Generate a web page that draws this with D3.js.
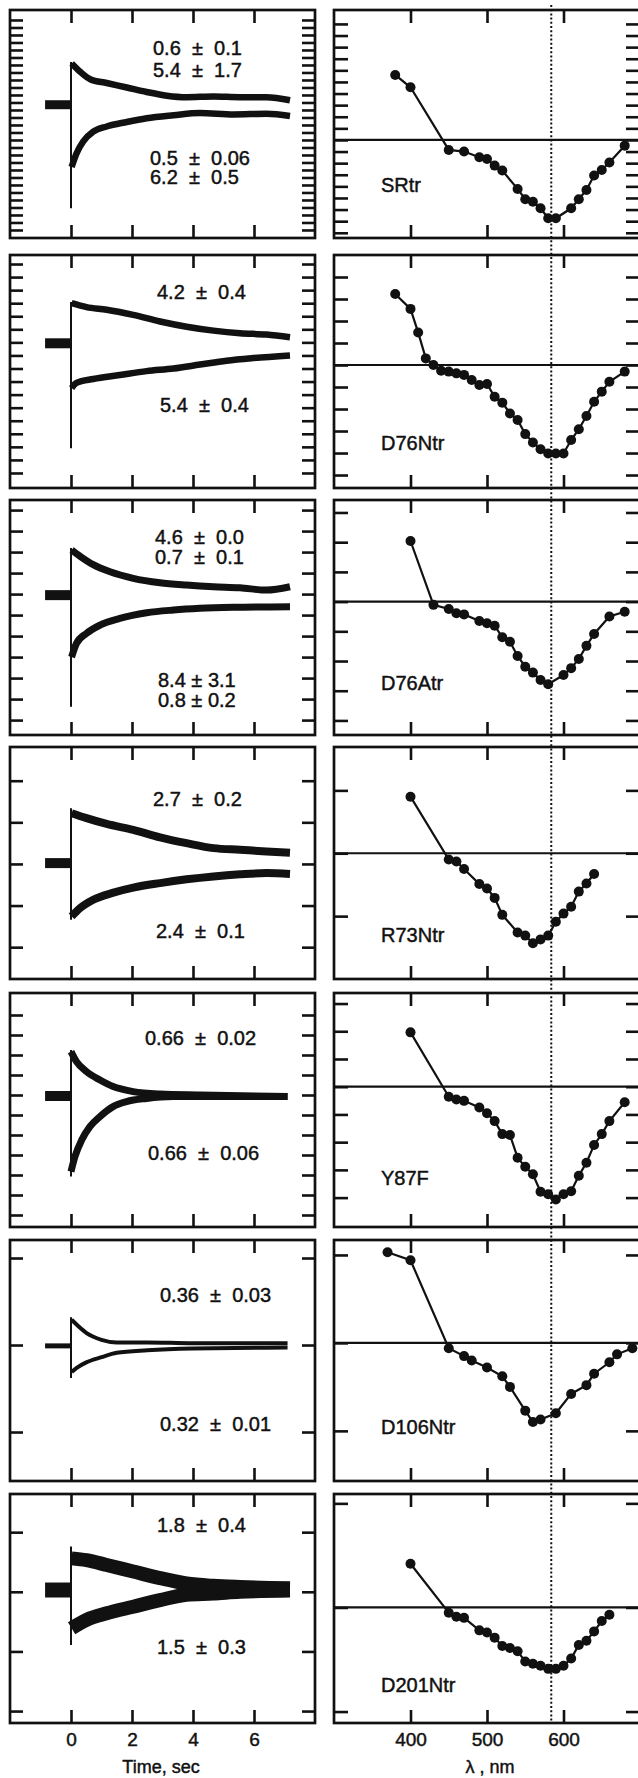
<!DOCTYPE html>
<html>
<head>
<meta charset="utf-8">
<script src="https://cdn.jsdelivr.net/npm/d3@7"></script>
<style>
  body { margin: 0; background: #fff; }
  text { font-family: "Liberation Sans", Arial, Helvetica, sans-serif; fill: #111; stroke: #111; stroke-width: 0.45px; }
</style>
</head>
<body>
<div id="fig"></div>
<script>
// ---------- data ----------
var mutants = ["SRtr", "D76Ntr", "D76Atr", "R73Ntr", "Y87F", "D106Ntr", "D201Ntr"];

var timeTicks = [0, 2, 4, 6];
var wlTicks = [400, 500, 600];
var markerWl = 584;   // dotted line

// time constants printed in each kinetics panel (upper / lower trace)
var tauUp = [["0.6  ±  0.1", "5.4  ±  1.7"], ["4.2  ±  0.4"], ["4.6  ±  0.0", "0.7  ±  0.1"],
             ["2.7  ±  0.2"], ["0.66  ±  0.02"], ["0.36  ±  0.03"], ["1.8  ±  0.4"]];
var tauDown = [["0.5  ±  0.06", "6.2  ±  0.5"], ["5.4  ±  0.4"], ["8.4 ± 3.1", "0.8 ± 0.2"],
               ["2.4  ±  0.1"], ["0.66  ±  0.06"], ["0.32  ±  0.01"], ["1.5  ±  0.3"]];

// kinetics: y in tick units, [time s, value]
var kinBase = [16.7, 9.93, 5.95, 2.02, 5.95, 0.99, 2.03];
var kinSpike = [[22.4, 2.9], [13.1, 1.9], [8.2, 0.63], [3.34, 0.66], [8.25, 1.92], [1.32, 0.62], [2.76, 1.11]];

var srtrUp = [[0.02,22.2],[0.3,21.1],[0.63,20.1],[1.17,19.6],[1.83,19.0],[2.48,18.4],[3.14,17.9],[3.79,17.7],[4.67,17.8],[5.54,17.7],[6.41,17.7],[7.18,17.3]];
var srtrDown = [[0.02,8.4],[0.18,10.2],[0.4,11.8],[0.73,13.1],[1.17,13.8],[1.83,14.4],[2.48,14.9],[3.36,15.3],[4.23,15.6],[5.33,15.4],[6.41,15.5],[7.18,15.2]];
var d76nUp = [[0.02,13.0],[0.51,12.7],[1.17,12.5],[2.04,12.1],[2.92,11.6],[3.79,11.2],[4.67,10.9],[5.54,10.7],[6.41,10.6],[7.18,10.4]];
var d76nDown = [[0.02,6.5],[0.18,6.9],[0.73,7.2],[1.6,7.5],[2.48,7.8],[3.36,8.0],[4.23,8.3],[5.1,8.6],[5.98,8.8],[7.18,9.0]];
var d76aUp = [[0.02,8.1],[0.3,7.8],[0.73,7.4],[1.28,7.06],[2.04,6.75],[2.92,6.54],[3.79,6.43],[4.67,6.35],[5.54,6.3],[6.41,6.19],[7.18,6.35]];
var d76aDown = [[0.02,3.0],[0.18,3.65],[0.51,4.13],[0.95,4.52],[1.6,4.84],[2.48,5.11],[3.36,5.24],[4.23,5.32],[5.33,5.37],[7.18,5.4]];
var r73nUp = [[0.02,3.22],[0.51,3.1],[1.17,2.96],[2.04,2.82],[2.92,2.64],[3.79,2.5],[4.67,2.38],[5.54,2.34],[6.41,2.3],[7.18,2.27]];
var r73nDown = [[0.02,0.74],[0.3,0.94],[0.73,1.14],[1.39,1.31],[2.04,1.43],[2.92,1.54],[3.79,1.63],[4.67,1.7],[5.54,1.75],[6.41,1.78],[7.18,1.76]];
var y87fUp = [[0.0,8.17],[0.18,7.67],[0.51,7.17],[0.95,6.75],[1.38,6.42],[2.04,6.17],[2.92,6.05],[4.23,6.0],[7.1,5.92]];
var y87fDown = [[0.0,2.17],[0.13,2.92],[0.35,3.75],[0.62,4.42],[0.95,4.92],[1.38,5.42],[1.82,5.67],[2.48,5.83],[3.36,5.92],[7.1,5.92]];
var d106nUp = [[0.02,1.29],[0.2,1.23],[0.5,1.14],[1.0,1.06],[1.5,1.03],[2.5,1.03],[4,1.02],[7.1,1.02]];
var d106nDown = [[0.02,0.69],[0.2,0.74],[0.5,0.8],[1.0,0.86],[1.5,0.91],[2.5,0.94],[4,0.96],[7.1,0.97]];
var d201nUp = [[0.02,2.56],[0.51,2.53],[1.17,2.45],[2.04,2.34],[2.92,2.23],[3.79,2.14],[4.67,2.1],[5.54,2.08],[7.18,2.06]];
var d201nDown = [[0.02,1.39],[0.51,1.53],[1.17,1.64],[2.04,1.75],[2.92,1.86],[3.79,1.95],[4.67,1.97],[5.54,2.0],[7.18,2.02]];

// kinetics y axes (tick units): domain and number of ticks
var kinDomain = [[-1.07, 29.33], [-1.15, 16.69], [-0.71, 10.48], [-0.765, 4.81], [-0.6, 11.1], [-0.563, 2.207], [-0.2, 3.64]];
var kinTickMax = [28, 16, 10, 4, 10, 2, 3];

// action spectra: wavelength nm, value (tick units)
var srtrWl = [380,400,450,470,490,500,510,520,540,550,560,570,580,590,610,620,630,640,650,660,680];
var srtrVal = [5.6,4.54,-0.86,-1.0,-1.49,-1.64,-2.21,-2.64,-4.22,-5.11,-5.32,-5.89,-6.75,-6.75,-5.89,-5.11,-4.31,-3.07,-2.59,-1.95,-0.49];
var d76nWl = [380,400,410,420,430,440,450,460,470,480,490,500,510,520,530,540,550,560,570,580,590,600,610,620,630,640,650,660,680];
var d76nVal = [3.23,2.55,1.48,0.3,0,-0.26,-0.3,-0.38,-0.45,-0.68,-0.91,-0.86,-1.44,-1.71,-2.2,-2.5,-3.14,-3.52,-3.83,-4.02,-4.02,-4.02,-3.41,-2.92,-2.32,-1.67,-1.21,-0.76,-0.3];
var d76aWl = [400,430,450,460,470,490,500,510,520,530,540,550,560,570,580,600,610,620,630,640,660,680];
var d76aVal = [2.04,-0.11,-0.25,-0.39,-0.43,-0.65,-0.73,-0.81,-1.2,-1.35,-1.83,-2.19,-2.39,-2.64,-2.78,-2.47,-2.24,-1.93,-1.49,-1.09,-0.5,-0.34];
var r73nWl = [400,450,460,470,490,500,510,520,540,550,560,570,580,590,600,610,620,630,640];
var r73nVal = [0.9,-0.1,-0.13,-0.25,-0.49,-0.56,-0.71,-0.98,-1.26,-1.31,-1.43,-1.37,-1.31,-1.09,-0.96,-0.85,-0.61,-0.48,-0.33];
var y87fWl = [400,450,460,470,490,500,510,520,530,540,550,560,570,580,590,600,610,620,630,640,650,660,680];
var y87fVal = [1.96,-0.36,-0.46,-0.51,-0.75,-0.96,-1.24,-1.71,-1.74,-2.56,-2.89,-3.16,-3.79,-3.88,-4.07,-3.88,-3.77,-3.21,-2.74,-2.1,-1.71,-1.24,-0.56];
var d106nWl = [370,400,450,470,480,500,520,530,550,560,570,590,610,630,640,660,670,690];
var d106nVal = [1.03,0.94,-0.06,-0.15,-0.2,-0.28,-0.38,-0.5,-0.77,-0.9,-0.87,-0.8,-0.58,-0.48,-0.35,-0.22,-0.13,-0.06];
var d201nWl = [400,450,460,470,490,500,510,520,530,540,550,560,570,580,590,600,610,620,630,640,650,660];
var d201nVal = [0.42,-0.05,-0.09,-0.1,-0.22,-0.24,-0.29,-0.37,-0.39,-0.42,-0.52,-0.54,-0.56,-0.59,-0.59,-0.56,-0.49,-0.36,-0.32,-0.23,-0.13,-0.07];

var specDomain = [[-8.45, 11.2], [-5.59, 5.0], [-4.49, 3.42], [-2.0, 1.69], [-5.06, 3.38], [-1.57, 1.17], [-1.11, 1.09]];
var specTicks = [d3.range(-8, 11), d3.range(-5, 5), d3.range(-4, 4), [-1, 0, 1], d3.range(-4, 4), [-1, 0, 1], [-1, 0, 1]];

// ---------- layout ----------
var svgWidth = 638, svgHeight = 1778;
var ink = "#111";
var rowTop = [10, 255, 500, 747, 993, 1240, 1494];
var rowBottom = [238, 488, 735, 979, 1227, 1481, 1723];
var preStart = -0.85;
var traceW = [6.5, 6.5, 7, 8, 7, 4, 14];
var preW = [9, 10, 10, 10, 10, 5, 15];
var tauX = [[153, 150], [157, 160], [155, 158], [153, 156], [145, 148], [160, 160], [157, 157]];
var tauUpY = [[48, 70], [292], [537, 557], [799], [1038], [1295], [1525]];
var tauDownY = [[158, 177], [405], [680, 700], [931], [1153], [1424], [1647]];
var nameY = [184, 442, 682, 934, 1177, 1426, 1684];

var kinUp = [srtrUp, d76nUp, d76aUp, r73nUp, y87fUp, d106nUp, d201nUp];
var kinDown = [srtrDown, d76nDown, d76aDown, r73nDown, y87fDown, d106nDown, d201nDown];
var specWl = [srtrWl, d76nWl, d76aWl, r73nWl, y87fWl, d106nWl, d201nWl];
var specVal = [srtrVal, d76nVal, d76aVal, r73nVal, y87fVal, d106nVal, d201nVal];

var svg = d3.select("#fig").append("svg")
  .attr("width", svgWidth)
  .attr("height", svgHeight)
  .style("background", "#fff");

var xTime = d3.scaleLinear().domain([-2, 8]).range([10, 315]);
var xWl = d3.scaleLinear().domain([300, 700]).range([334, 640]);

// box with inward ticks on all four sides
function frame(g, x, y, xTicks, yTicks, tLen, last) {
  var x0 = x.range()[0], x1 = x.range()[1];
  var yTop = y.range()[1], yBot = y.range()[0];

  g.append("g").attr("transform", `translate(${x0},0)`)
    .call(d3.axisLeft(y).tickValues(yTicks).tickSize(-tLen).tickFormat(""));
  g.append("g").attr("transform", `translate(${x1},0)`)
    .call(d3.axisRight(y).tickValues(yTicks).tickSize(-tLen).tickFormat(""));
  g.append("g").attr("transform", `translate(0,${yTop})`)
    .call(d3.axisTop(x).tickValues(xTicks).tickSize(-13).tickFormat(""));
  var bottom = g.append("g").attr("class", "bottom").attr("transform", `translate(0,${yBot})`)
    .call(d3.axisBottom(x).tickValues(xTicks).tickSize(-13).tickPadding(10)
      .tickFormat(last ? d3.format("d") : ""));

  g.selectAll(".domain").remove();
  g.selectAll(".tick line").attr("stroke", ink).attr("stroke-width", 2.6);
  bottom.selectAll("text")
    .attr("fill", ink)
    .style("font-size", "19px")
    .style("font-family", "'Liberation Sans', Arial, sans-serif");

  g.append("rect")
    .attr("x", x0).attr("y", yTop)
    .attr("width", x1 - x0).attr("height", yBot - yTop)
    .attr("fill", "none").attr("stroke", ink).attr("stroke-width", 2.7);
}

for (var i = 0; i < mutants.length; i++) {
  var last = i === mutants.length - 1;

  // ----- kinetics panel -----
  var yK = d3.scaleLinear().domain(kinDomain[i]).range([rowBottom[i], rowTop[i]]);
  var gk = svg.append("g");
  frame(gk, xTime, yK, timeTicks, d3.range(0, kinTickMax[i] + 1), 13, last);

  var kLine = d3.line()
    .x(d => xTime(d[0]))
    .y(d => yK(d[1]))
    .curve(d3.curveMonotoneX);

  gk.append("path")
    .datum([[preStart, kinBase[i]], [-0.02, kinBase[i]]])
    .attr("d", kLine)
    .attr("fill", "none").attr("stroke", ink)
    .attr("stroke-width", preW[i]);

  gk.append("line")
    .attr("x1", xTime(0)).attr("x2", xTime(0))
    .attr("y1", yK(kinSpike[i][0])).attr("y2", yK(kinSpike[i][1]))
    .attr("stroke", ink).attr("stroke-width", 2);

  [kinUp[i], kinDown[i]].forEach(function(tr) {
    gk.append("path")
      .datum(tr)
      .attr("d", kLine)
      .attr("fill", "none").attr("stroke", ink)
      .attr("stroke-width", traceW[i])
      .attr("stroke-linejoin", "round");
  });

  tauUp[i].forEach(function(s, j) {
    gk.append("text").attr("x", tauX[i][0]).attr("y", tauUpY[i][j] + 7)
      .style("font-size", "20px").style("white-space", "pre").text(s);
  });
  tauDown[i].forEach(function(s, j) {
    gk.append("text").attr("x", tauX[i][1]).attr("y", tauDownY[i][j] + 7)
      .style("font-size", "20px").style("white-space", "pre").text(s);
  });

  // ----- action spectrum panel -----
  var yS = d3.scaleLinear().domain(specDomain[i]).range([rowBottom[i], rowTop[i]]);
  var gs = svg.append("g");
  frame(gs, xWl, yS, wlTicks, specTicks[i], 14, last);

  gs.append("line")
    .attr("x1", xWl.range()[0]).attr("x2", xWl.range()[1])
    .attr("y1", yS(0)).attr("y2", yS(0))
    .attr("stroke", ink).attr("stroke-width", 2.2);

  var pts = specWl[i].map((w, k) => [w, specVal[i][k]]);
  gs.append("path")
    .datum(pts)
    .attr("d", d3.line().x(d => xWl(d[0])).y(d => yS(d[1])))
    .attr("fill", "none").attr("stroke", ink).attr("stroke-width", 2.2);

  gs.selectAll("circle")
    .data(pts)
    .enter().append("circle")
    .attr("cx", d => xWl(d[0]))
    .attr("cy", d => yS(d[1]))
    .attr("r", 5)
    .attr("fill", ink);

  gs.append("text").attr("x", 381).attr("y", nameY[i] + 7.5)
    .style("font-size", "20px").text(mutants[i]);
}

// dotted reference line through all spectra
svg.append("line")
  .attr("x1", xWl(markerWl)).attr("x2", xWl(markerWl))
  .attr("y1", 5).attr("y2", rowBottom[6])
  .attr("stroke", ink).attr("stroke-width", 2)
  .attr("stroke-dasharray", "2,2.2");

// axis titles
svg.append("text").attr("x", 161).attr("y", 1773)
  .attr("text-anchor", "middle").style("font-size", "18px").text("Time, sec");
svg.append("text").attr("x", 490).attr("y", 1773)
  .attr("text-anchor", "middle").style("font-size", "18px").text("λ , nm");
</script>
</body>
</html>
